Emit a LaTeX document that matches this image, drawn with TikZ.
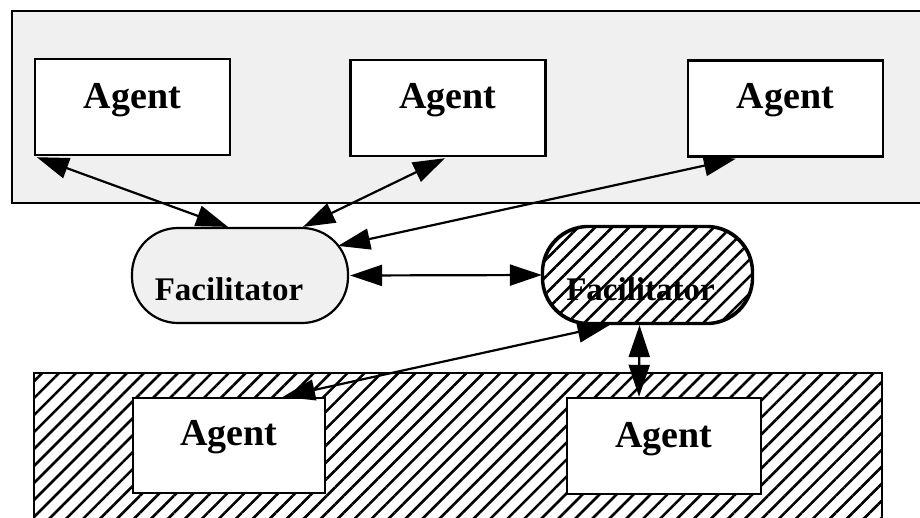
\documentclass[tikz,border=0pt]{standalone}
\usepackage{fontspec}
\setmainfont{Liberation Serif}
\usetikzlibrary{arrows.meta,patterns.meta}
\tikzset{
  stipple/.style={fill=black!6},
  hatch/.style={pattern={Lines[angle=45,distance=12pt,line width=2.6pt]}},
  region/.style={draw=black,line width=2.4pt},
  agentbox/.style={draw=black,line width=2.4pt,fill=white,rectangle,
    minimum width=195pt,minimum height=96pt,inner sep=0pt},
  agentlabel/.style={anchor=base,inner sep=0pt,font=\fontsize{38}{40}\selectfont\bfseries},
  facil/.style={draw=black,line width=2.2pt,rectangle,rounded corners=46pt,
    inner sep=0pt},
  facillabel/.style={anchor=base,inner sep=0pt,font=\fontsize{33}{36}\selectfont\bfseries},
  link/.style={line width=2.2pt,
    arrows={Triangle[length=32pt,width=21pt]-Triangle[length=32pt,width=21pt]}},
}
\begin{document}
\begin{tikzpicture}[x=1pt,y=-1pt]
\useasboundingbox (0,0) rectangle (920,517);
\clip (0,0) rectangle (920,517);

% upper community: stippled band
\draw[region,stipple] (12,11) rectangle (940,203);
% lower community: hatched band
\draw[region,hatch] (34,373) rectangle (882,540);

% agents of the upper community
\node[agentbox] (a1) at (132.5,107) {};
\node[agentbox] (a2) at (448,108) {};
\node[agentbox] (a3) at (785.5,108.5) {};
\node[agentlabel] (a1t) at ([yshift=-1pt]a1.center) {Agent};
\node[agentlabel] (a2t) at ([yshift=0pt]a2.center) {Agent};
\node[agentlabel] (a3t) at ([yshift=0pt]a3.center) {Agent};

% agents of the lower community
\node[agentbox,minimum width=192pt,minimum height=95pt] (b1) at (229,445.5) {};
\node[agentbox,minimum width=194pt] (b2) at (664,446) {};
\node[agentlabel] (b1t) at ([yshift=0pt]b1.center) {Agent};
\node[agentlabel] (b2t) at ([yshift=-1pt]b2.center) {Agent};

% facilitators
\node[facil,stipple,minimum width=216pt,minimum height=95pt] (f1) at (240,275.5) {};
\node[facillabel] (f1t) at ([xshift=-11pt,yshift=-24.5pt]f1.center) {Facilitator};

\node[facil,fill=white,minimum width=209pt,minimum height=96pt] (f2) at (647.5,275) {};
\node[facillabel] (f2t) at ([xshift=-7pt,yshift=-25pt]f2.center) {Facilitator};
\draw[line width=2.2pt,hatch,rounded corners=46pt] (f2.south west) rectangle (f2.north east);

% connections
\draw[link] ([xshift=3pt,yshift=-1pt]a1.south west) -- ([xshift=-12pt]f1.north);
\draw[link] ([xshift=-3pt,yshift=-1pt]a2.south) -- ([xshift=63pt]f1.north);
\draw[link] ([xshift=49pt,yshift=-1pt]a3.south west) -- ([xshift=-11pt,yshift=-19pt]f1.north east);
\draw[link] ([xshift=1pt]f1.east) -- (f2.west);
\draw[link] ([xshift=-38pt,yshift=-1pt]f2.south) -- ([xshift=54pt]b1.north);
\draw[link] ([xshift=-8pt,yshift=-1pt]f2.south) -- ([xshift=-25pt]b2.north);
\end{tikzpicture}
\end{document}
